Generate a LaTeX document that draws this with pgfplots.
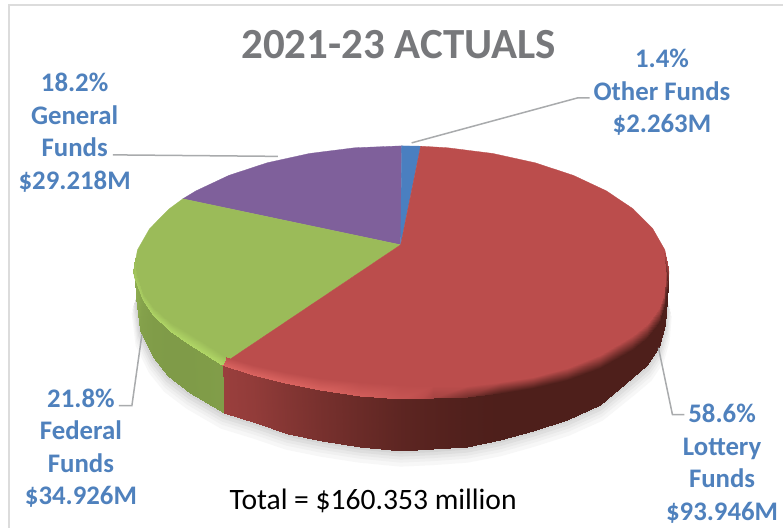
\documentclass[border=0pt]{standalone}
\usepackage{pgfplots}
\usepackage{pgfplotstable}
\usepackage{fontspec}
\setmainfont{Carlito}
\pgfplotsset{compat=1.18}

\definecolor{labelblue}{HTML}{4F81BD}
\definecolor{titlegray}{HTML}{77787B}
\definecolor{leadgray}{HTML}{A9ABAD}
\definecolor{framegray}{HTML}{DCDCDC}
\definecolor{facered}{HTML}{BB4D4C}
\definecolor{facegreen}{HTML}{9BBB59}
\definecolor{facepurple}{HTML}{7F609B}
\definecolor{faceblue}{HTML}{4A7FC0}

% underside of the disc, used for the soft shadow
\pgfplotstableread{
x y
136 297
140 330
153 357
168 376
190 393
224 413
256 423
288 434
322 441
360 447
401 451
433 449.5
467 447
500 440.5
533 431
567 420
600 405
633 378
648 365
660 347
666 325
668 300
}\undercurve

\tikzset{leader/.style={leadgray,line width=1.5pt},
  lbl/.style={text=labelblue,align=center,font=\fontsize{26.8}{32.6}\selectfont\bfseries}}

\begin{document}
\begin{tikzpicture}
\begin{axis}[
  width=784pt,height=528pt,scale only axis,
  xmin=0,xmax=784,ymin=0,ymax=528,y dir=reverse,
  hide axis,clip=false,
  point meta min=0,point meta max=1,
  colormap={redmap}{rgb255(0cm)=(78,31,27); rgb255(1cm)=(187,77,76); rgb255(2cm)=(218,100,96)},
  colormap={greenmap}{rgb255(0cm)=(105,130,58); rgb255(1cm)=(155,187,89); rgb255(2cm)=(176,214,102)},
]
\addplot[fill=white,draw=none] coordinates {(0,0)(784,0)(784,528)(0,528)} --cycle;

% frame
\addplot[framegray,line width=1.3pt] coordinates {(9,528)(9,5)(784,5)};

% shadow
\addplot[fill=black!3,draw=none] table[x expr=401+(\thisrow{x}-401)*1.016,y expr=\thisrow{y}+16] {\undercurve} --cycle;
\addplot[fill=black!6,draw=none] table[x expr=401+(\thisrow{x}-401)*1.013,y expr=\thisrow{y}+12] {\undercurve} --cycle;
\addplot[fill=black!9,draw=none] table[x expr=401+(\thisrow{x}-401)*1.01,y expr=\thisrow{y}+9] {\undercurve} --cycle;
\addplot[fill=black!13,draw=none] table[x expr=401+(\thisrow{x}-401)*1.007,y expr=\thisrow{y}+6] {\undercurve} --cycle;
\addplot[fill=black!17,draw=none] table[x expr=401+(\thisrow{x}-401)*1.003,y expr=\thisrow{y}+3] {\undercurve} --cycle;

% side wall, lottery
\addplot[surf,shader=interp,colormap name=redmap,mesh/ordering=y varies,mesh/rows=2,point meta=explicit]
  table[meta=c] {
x y c
222 365 .35
224 413 .35
253 375 .31
256 423 .31
285 383 .25
288 434 .25
320 390 .19
322 441 .19
360 396 .13
360 447 .13
401 399 .07
401 451 .07
433 398 .04
433 449.5 .04
467 397 .01
467 447 .01
500 393 0
500 440.5 0
533 388 0
533 431 0
567 380 0
567 420 0
600 368 0
600 405 0
633 350 0
633 378 0
648 338 0
648 365 0
660 323 0
660 347 0
666 305 0
666 325 0
669 285 0
668 300 0
};
% side wall, federal
\addplot[surf,shader=interp,colormap name=greenmap,mesh/ordering=y varies,mesh/rows=2,point meta=explicit]
  table[meta=c] {
x y c
135 279 .36
136 297 .36
143 300 .27
140 330 .27
153 315 .23
153 357 .23
170 331 .22
168 376 .22
187 343 .22
190 393 .22
222 365 .24
224 413 .24
};

% top faces
\addplot[fill=facepurple,draw=facepurple,line width=.3pt] coordinates {
 (401,245)(183,199)(196.2,191)(229.2,175.5)(267.5,162.9)(309.8,153.6)(355,147.9)(402,146)} --cycle;
\addplot[fill=faceblue,draw=faceblue,line width=.3pt] coordinates {
 (401,245)(402,146)(421,146.3)} --cycle;
\addplot[fill=facegreen,draw=facegreen,line width=.3pt] coordinates {
 (401,245)(183,199)(169.4,209)(149.7,228.9)(137.6,250.1)(133.5,272)(135,279)(143,300)(153,315)
 (170,331)(187,343)(222,365)} --cycle;
\addplot[fill=facered,draw=facered,line width=.3pt] coordinates {
 (401,245)(421,146.3)(448,147.9)(493.2,153.6)(535.5,162.9)(573.8,175.5)(606.8,191)(633.6,209)
 (653.3,228.9)(665.4,250.1)(669.5,272)(669,285)(666,305)(660,323)(648,338)(633,350)(600,368)
 (567,380)(533,388)(500,393)(467,397)(433,398)(401,399)(360,396)(320,390)(285,383)(253,375)(222,365)} --cycle;

% rim, lottery
\addplot[surf,shader=interp,colormap name=redmap,mesh/ordering=y varies,mesh/rows=2,point meta=explicit]
  table[meta=c] {
x y c
226 357 .5
222 365 1
253 365 .5
253 375 1
285 372 .5
285 383 1
320 378 .5
320 390 .95
360 382 .5
360 396 .85
401 385 .5
401 399 .68
433 386 .5
433 398 .4
467 386 .5
467 397 .18
500 382 .5
500 393 .02
533 377 .5
533 388 0
567 368 .5
567 380 0
600 355 .5
600 368 0
633 336 .5
633 350 0
648 324 .5
648 338 0
660 308 .5
660 323 0
666 290 .5
666 305 0
667 268 .5
669 285 0
665 250 .5
669.5 272 .35
};
% rim, federal
\addplot[surf,shader=interp,colormap name=greenmap,mesh/ordering=y varies,mesh/rows=2,point meta=explicit]
  table[meta=c] {
x y c
226 357 .5
222 365 1
187 332 .5
187 343 1
170 322 .5
170 331 1
153 307 .5
153 315 .95
143 293 .5
143 300 .85
137 275 .5
135 279 .75
135 258 .5
133.5 272 .55
};

% leader lines
\addplot[leader] coordinates {(113,155)(278,156.5)};
\addplot[leader] coordinates {(412,143)(578,98)(590,98)};
\addplot[leader] coordinates {(119,406)(132,406)(142,335)};
\addplot[leader] coordinates {(659,348)(673,415)(685,415)};

% text
\node[text=titlegray,font=\fontsize{43}{50}\selectfont\bfseries] at (axis cs:399,45) {2021-23 ACTUALS};
\node[lbl] at (axis cs:74.7,133) {18.2\%\\General\\Funds\\\$29.218M};
\node[lbl] at (axis cs:662.5,92.5) {1.4\%\\Other Funds\\\$2.263M};
\node[lbl] at (axis cs:81,448.5) {21.8\%\\Federal\\Funds\\\$34.926M};
\node[lbl] at (axis cs:722.7,464) {58.6\%\\Lottery\\Funds\\\$93.946M};
\node[text=black,font=\fontsize{29.6}{34}\selectfont] at (axis cs:373.5,501) {Total = \$160.353 million};
\end{axis}
\end{tikzpicture}
\end{document}
